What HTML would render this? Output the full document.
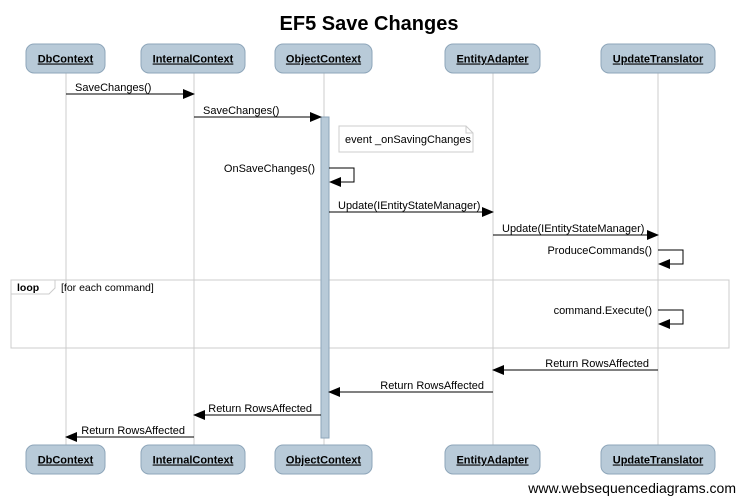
<!DOCTYPE html>
<html><head><meta charset="utf-8"><style>
html,body{margin:0;padding:0;background:#fff;}
svg{display:block;font-family:"Liberation Sans",Arial,sans-serif;}
</style></head><body>
<svg id="d" width="738" height="497" viewBox="0 0 738 497">
<defs><marker id="ah" markerWidth="12" markerHeight="10" refX="11" refY="5" orient="auto" markerUnits="userSpaceOnUse"><path d="M0,0 L12,5 L0,10 z" fill="#000"/></marker></defs>
<text x="369" y="30" text-anchor="middle" font-size="20" font-weight="bold">EF5 Save Changes</text>
<g id="lines"></g>
<rect x="11" y="280" width="718" height="68" fill="none" stroke="#ccc"/>
<path d="M11,280 H55 V288 L49,294 H11 Z" fill="#fff" stroke="#ccc"/>
<text x="17" y="291" font-size="10.5" font-weight="bold">loop</text>
<text x="61" y="291" font-size="10.5">[for each command]</text>
<rect x="321" y="117" width="8" height="321" fill="#b8cad8" stroke="#8ea6ba"/>
<path d="M339,126 H466 L473,133 V152 H339 Z" fill="#fff" stroke="#ccc"/>
<path d="M466,126 V133 H473" fill="none" stroke="#ccc"/>
<text x="345" y="143" font-size="11">event _onSavingChanges</text>
<g id="msgs"></g>
<g id="heads"></g>
<text x="736" y="493" text-anchor="end" font-size="14">www.websequencediagrams.com</text>
</svg>
<script>
const participants=["DbContext","InternalContext","ObjectContext","EntityAdapter","UpdateTranslator"];
const lifeX=[66,194,324,493,658];
const boxL=[26,141,275,445,601];
const boxR=[105,245,372,540,715];
const msgFrom=[0,1,2,2,3,4,4,4,3,2,1];
const msgTo=[1,2,2,3,4,4,4,3,2,1,0];
const msgY=[94,117,168,212,235,250,310,370,392,415,437];
const msgLabel=["SaveChanges()","SaveChanges()","OnSaveChanges()","Update(IEntityStateManager)","Update(IEntityStateManager)","ProduceCommands()","command.Execute()","Return RowsAffected","Return RowsAffected","Return RowsAffected","Return RowsAffected"];
const NS="http://www.w3.org/2000/svg";
const L=document.getElementById('lines'),M=document.getElementById('msgs'),H=document.getElementById('heads');
function mk(t,a,p){const e=document.createElementNS(NS,t);for(const k in a)e.setAttribute(k,a[k]);p.appendChild(e);return e;}
participants.forEach((p,i)=>{
  const ln=mk('line',{x1:lifeX[i],y1:73,x2:lifeX[i],y2:445,stroke:'#ccc'},L);
  
  
  [44,445].forEach((y,j)=>{
    const g=mk('g',{},H);
    
    
    mk('rect',{x:boxL[i],y:y,width:boxR[i]-boxL[i],height:29,rx:8,fill:'#b8cad8',stroke:'#8ea6ba'},g);
    const t=mk('text',{x:(boxL[i]+boxR[i])/2,y:y+18.5,'text-anchor':'middle','font-size':11,'font-weight':'bold','text-decoration':'underline'},g);
    t.textContent=p;
  });
});
msgLabel.forEach((lab,k)=>{
  const f=msgFrom[k],t=msgTo[k],y=msgY[k];
  const g=mk('g',{},M);
  
  
  let x1=lifeX[f],x2=lifeX[t];
  const actF=f===2&&y>117, actT=t===2;
  if(f===t){
    const bx=x1+(f===2?5:0);
    mk('path',{d:`M${bx},${y} H${bx+25} V${y+14} H${bx+1}`,fill:'none',stroke:'#000','marker-end':'url(#ah)'},g);
    const tx=mk('text',{x:x1-(f===2?9:6),y:y+4,'text-anchor':'end','font-size':11},g);tx.textContent=lab;
  } else {
    if(actF) x1+= (x2>x1?5:-3);
    if(actT) x2+= (x2>x1?-3:5);
    mk('line',{x1:x1,y1:y,x2:x2,y2:y,stroke:'#000','marker-end':'url(#ah)'},g);
    let tx;
    if(x2>x1) tx=mk('text',{x:x1+9,y:y-3,'font-size':11},g);
    else tx=mk('text',{x:x1-9,y:y-3,'text-anchor':'end','font-size':11},g);
    tx.textContent=lab;
  }
});
</script>
</body></html>
